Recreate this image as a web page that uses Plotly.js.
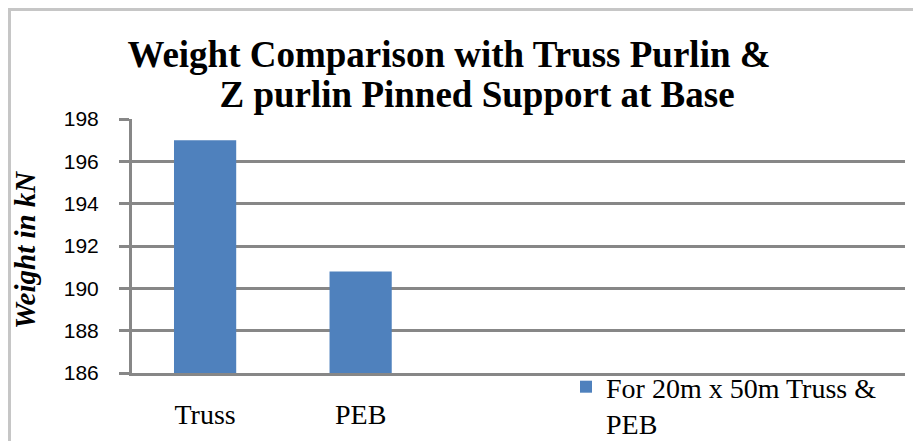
<!DOCTYPE html>
<html>
<head>
<meta charset="utf-8">
<script src="https://cdn.plot.ly/plotly-3.0.1.min.js"></script>
<style>
  html, body { margin: 0; padding: 0; background: #ffffff; }
  #frame { position: absolute; left: 8px; top: 8px; width: 905px; height: 433px;
           border-left: 3px solid #c6c6c6; border-top: 3px solid #c6c6c6; box-sizing: border-box; }
  #chart { position: absolute; left: 0; top: 0; width: 913px; height: 441px; }
</style>
</head>
<body>
<div id="frame"></div>
<div id="chart"></div>
<script>
// ---- data ----
const categories = ["Truss", "PEB"];
const weights = [197.0, 190.8];
const seriesName = "For 20m x 50m Truss &<br>PEB";
const yTicks = [186, 188, 190, 192, 194, 196, 198];
const titleLine1 = "Weight Comparison with Truss Purlin &";
const titleLine2 = "\u00A0\u00A0\u00A0\u00A0\u00A0\u00A0Z purlin Pinned Support at Base";
const yTitle = "<b><i>Weight in kN</i></b>";

const gridColor = "#878787";
const serif = "Liberation Serif";

const trace = {
  type: "bar",
  x: categories,
  y: weights,
  name: seriesName,
  marker: { color: "#4F81BD" },
  showlegend: true
};

const layout = {
  width: 913, height: 441,
  paper_bgcolor: "rgba(0,0,0,0)",
  plot_bgcolor: "rgba(0,0,0,0)",
  margin: { l: 132, r: 8, t: 119, b: 68, autoexpand: false },
  bargap: 0.6,
  font: { family: serif },
  title: {
    text: "<b>" + titleLine1 + "</b>",
    font: { family: serif, size: 37, color: "#000000" },
    xref: "container", x: 0.4918, xanchor: "center",
    yref: "container", y: 0.849, yanchor: "bottom"
  },
  annotations: [
    {
      text: "<b>" + titleLine2 + "</b>",
      font: { family: serif, size: 37, color: "#000000" },
      xref: "paper", yref: "paper",
      x: (449 - 132) / 773, y: 1.0, xanchor: "center", yanchor: "bottom",
      yshift: 2, showarrow: false
    },
    {
      text: yTitle,
      font: { family: serif, size: 29, color: "#000000" },
      xref: "paper", yref: "paper",
      x: (25 - 132) / 773, y: 0.484, xanchor: "center", yanchor: "middle",
      textangle: -90, showarrow: false
    }
  ],
  xaxis: {
    type: "category",
    range: [-0.47, 4.5],
    showgrid: false,
    showline: true, linecolor: gridColor, linewidth: 3,
    ticks: "",
    ticklabelstandoff: 14,
    tickfont: { family: serif, size: 28, color: "#000000" },
    zeroline: false,
    fixedrange: true
  },
  yaxis: {
    range: [186, 198],
    tickvals: yTicks,
    ticktext: yTicks.map(String),
    showgrid: true, gridcolor: gridColor, gridwidth: 3,
    showline: true, linecolor: gridColor, linewidth: 3,
    ticks: "outside", ticklen: 10, tickwidth: 3, tickcolor: gridColor,
    ticklabelstandoff: 16,
    tickfont: { family: "Liberation Sans", size: 21, color: "#000000" },
    zeroline: false,
    fixedrange: true
  },
  legend: {
    xref: "container", x: 566 / 913, xanchor: "left",
    yref: "container", y: (441 - 362) / 441, yanchor: "top",
    bgcolor: "rgba(0,0,0,0)",
    font: { family: serif, size: 28, color: "#000000" },
    valign: "top",
    itemclick: false, itemdoubleclick: false
  },
  showlegend: true
};

Plotly.newPlot("chart", [trace], layout, { displayModeBar: false, staticPlot: true });
</script>
</body>
</html>
